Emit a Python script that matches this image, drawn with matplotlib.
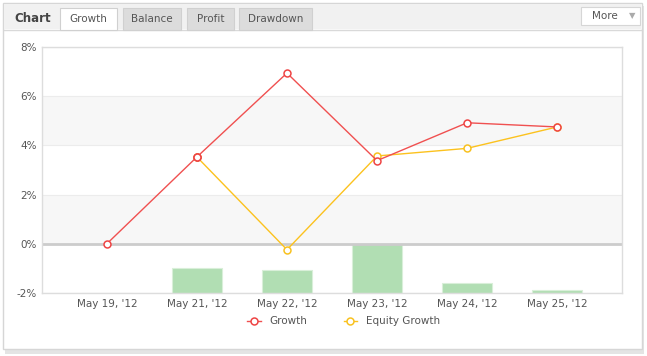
import matplotlib
matplotlib.use("Agg")
import matplotlib.pyplot as plt
from matplotlib.patches import Rectangle
from matplotlib.lines import Line2D

dates = ["May 19, '12", "May 21, '12", "May 22, '12", "May 23, '12", "May 24, '12", "May 25, '12"]
growth = [0.0, 3.53, 6.94, 3.38, 4.92, 4.75]
equity_growth = [None, 3.53, -0.24, 3.57, 3.88, 4.75]
bar_heights = [0.0, 1.0, 0.95, 2.0, 0.42, 0.14]
y_ticks = [-2, 0, 2, 4, 6, 8]
tabs = ["Growth", "Balance", "Profit", "Drawdown"]

W, H = 647, 356
fig = plt.figure(figsize=(W / 100, H / 100), dpi=100)
fig.patch.set_facecolor("white")


def px_rect(x, y, w, h, **kw):
    # pixel box measured from the top-left corner
    r = Rectangle((x / W, 1 - (y + h) / H), w / W, h / H, transform=fig.transFigure, **kw)
    fig.patches.append(r)
    return r


def px_text(x, y, s, **kw):
    fig.text(x / W, 1 - y / H, s, **kw)


# outer panel with a soft shadow
px_rect(5, 6, 639, 348, facecolor="#e4e4e4", edgecolor="none", zorder=0)
px_rect(3, 3, 639, 346, facecolor="white", edgecolor="#d6d6d6", linewidth=1, zorder=1)
# header
px_rect(4, 4, 637, 25, facecolor="#f1f1f1", edgecolor="none", zorder=1)
fig.add_artist(Line2D([4 / W, 641 / W], [1 - 29.5 / H] * 2, color="#d9d9d9", lw=1, zorder=2))
px_text(14, 18, "Chart", fontsize=8.5, fontweight="bold", color="#444444", va="center")

tab_boxes = [(60, 57), (123, 58), (187, 47), (239, 73)]
for i, (name, (tx, tw)) in enumerate(zip(tabs, tab_boxes)):
    face = "white" if i == 0 else "#dcdcdc"
    px_rect(tx, 8, tw, 22, facecolor=face, edgecolor="#d0d0d0", linewidth=0.8, zorder=3)
    px_text(tx + tw / 2, 19, name, fontsize=7.5, color="#555555", ha="center", va="center", zorder=4)

px_rect(581, 7, 59, 18, facecolor="white", edgecolor="#d6d6d6", linewidth=0.8, zorder=3)
px_text(605, 16, "More", fontsize=7.5, color="#555555", ha="center", va="center", zorder=4)
px_text(632, 16, "\u25bc", fontsize=6, color="#aaaaaa", ha="center", va="center", zorder=4)

ax = fig.add_axes([42 / W, 1 - 293 / H, 580 / W, 246 / H], zorder=5)
ax.set_facecolor("none")
x = list(range(len(dates)))

ax.axhspan(0, 2, color="#f7f7f7", zorder=0, lw=0)
ax.axhspan(4, 6, color="#f7f7f7", zorder=0, lw=0)
for t in y_ticks:
    ax.axhline(t, color="#ececec", lw=0.8, zorder=0.5)

ax.bar(x, bar_heights, bottom=-2, width=0.56, color="#b1deb3", edgecolor="#d9efd9", linewidth=0.8, zorder=1)
ax.axhline(0, color="#cccccc", lw=2, zorder=2)

ax.plot(x, growth, color="#f05050", lw=1, marker="o", markersize=5,
        markerfacecolor="white", markeredgecolor="#ee4444", markeredgewidth=1.1, zorder=4, label="Growth")
ex = [i for i, v in zip(x, equity_growth) if v is not None]
ev = [v for v in equity_growth if v is not None]
ax.plot(ex, ev, color="#fcc21e", lw=1, marker="o", markersize=5,
        markerfacecolor="white", markeredgecolor="#f8c120", markeredgewidth=1.1, zorder=3, label="Equity Growth")
# redraw first growth marker over the equity one
ax.plot(x[1:2], growth[1:2], lw=0, marker="o", markersize=5, markerfacecolor="white",
        markeredgecolor="#ee4444", markeredgewidth=1.1, zorder=5)

ax.set_xlim(-0.72, len(dates) - 0.28)
ax.set_ylim(-2, 8)
ax.set_yticks(y_ticks)
ax.set_yticklabels([f"{t}%" for t in y_ticks])
ax.set_xticks(x)
ax.set_xticklabels(dates)
ax.tick_params(length=0, labelsize=7.5, colors="#555555", pad=4)
ax.tick_params(axis="y", pad=4)
for side in ["left", "bottom", "right", "top"]:
    ax.spines[side].set_color("#dddddd")
    ax.spines[side].set_linewidth(1)

ax.legend(loc="center", bbox_to_anchor=(0.52, -0.115), ncol=2, frameon=False, fontsize=7.5,
          handlelength=1.3, columnspacing=3.5, handletextpad=0.8, labelcolor="#555555")

fig.savefig("out.png", dpi=100)
